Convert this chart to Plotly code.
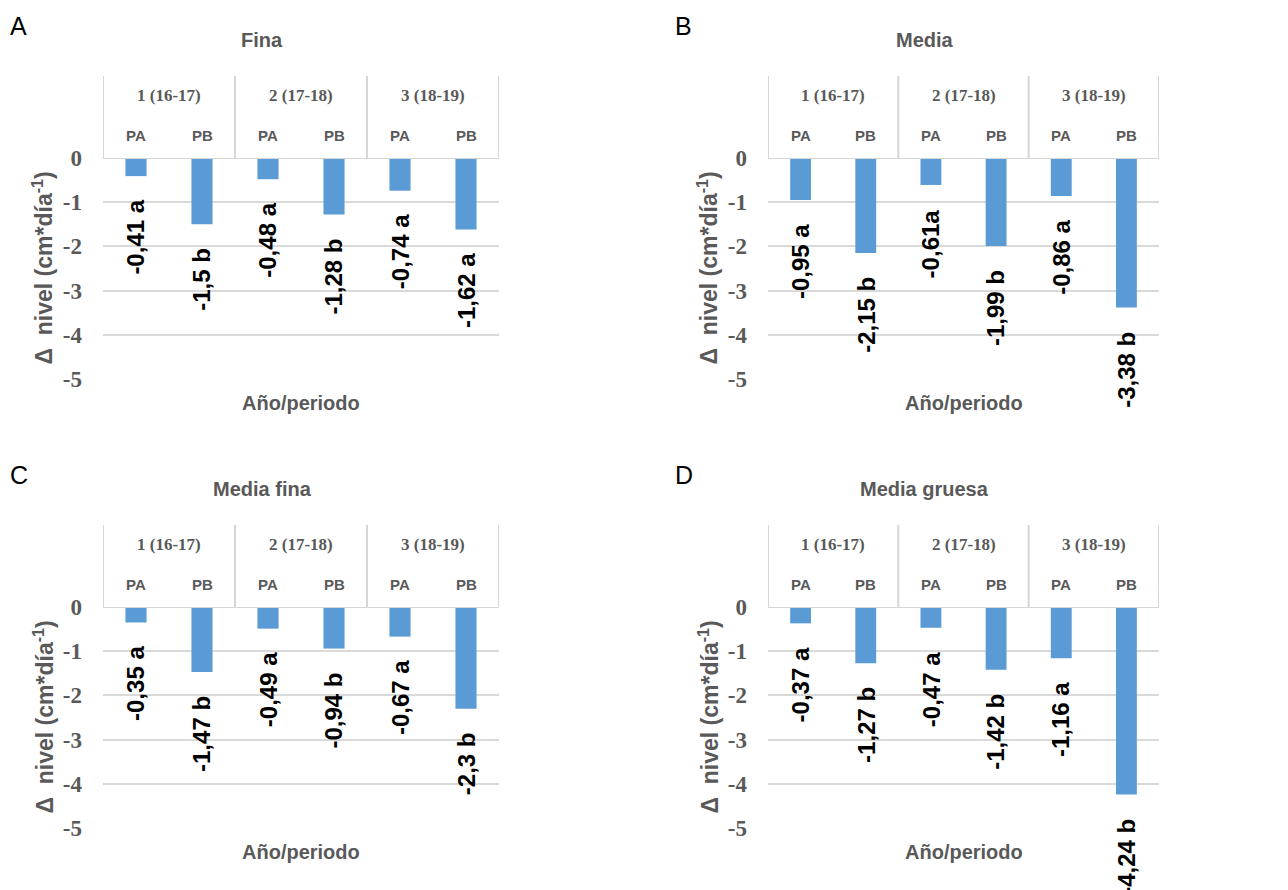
import plotly.graph_objects as go

W, H = 1288, 890

groups = ["1 (16-17)", "2 (17-18)", "3 (18-19)"]
subgroups = ["PA", "PB"]
categories = [f"{g} {s}" for g in groups for s in subgroups]
y_ticks = [0, -1, -2, -3, -4, -5]
y_tick_labels = ["0", "-1", "-2", "-3", "-4", "-5"]

panel_titles = ["Fina", "Media", "Media fina", "Media gruesa"]
panel_letters = ["A", "B", "C", "D"]

fina = [-0.41, -1.5, -0.48, -1.28, -0.74, -1.62]
fina_labels = ["-0,41 a", "-1,5 b", "-0,48 a", "-1,28 b", "-0,74 a", "-1,62 a"]
media = [-0.95, -2.15, -0.61, -1.99, -0.86, -3.38]
media_labels = ["-0,95 a", "-2,15 b", "-0,61a", "-1,99 b", "-0,86 a", "-3,38 b"]
media_fina = [-0.35, -1.47, -0.49, -0.94, -0.67, -2.3]
media_fina_labels = ["-0,35 a", "-1,47 b", "-0,49 a", "-0,94 b", "-0,67 a", "-2,3 b"]
media_gruesa = [-0.37, -1.27, -0.47, -1.42, -1.16, -4.24]
media_gruesa_labels = ["-0,37 a", "-1,27 b", "-0,47 a", "-1,42 b", "-1,16 a", "-4,24 b"]

series = [fina, media, media_fina, media_gruesa]
series_labels = [fina_labels, media_labels, media_fina_labels, media_gruesa_labels]

# panel plot boxes in pixels: left, right, top, bottom
boxes = [(103, 499, 158, 379), (768, 1159, 158, 379),
         (103, 499, 607, 828), (768, 1159, 607, 828)]

BAR = "#5B9BD5"
GRAY = "#595959"
LINE = "#D6D6D6"
SANS = "Liberation Sans, Arial, sans-serif"
SERIF = "Liberation Serif, Times New Roman, serif"


def px(xp):
    return xp / W


def py(yp):
    return 1 - yp / H


fig = go.Figure()
annotations = []
shapes = []
layout_axes = {}

for i in range(4):
    n = i + 1
    xa, ya = f"x{n}", f"y{n}"
    xkey = "xaxis" if n == 1 else f"xaxis{n}"
    ykey = "yaxis" if n == 1 else f"yaxis{n}"
    L, R, T, B = boxes[i]
    fig.add_trace(go.Bar(x=categories, y=series[i], xaxis=xa, yaxis=ya,
                         marker=dict(color=BAR, line=dict(width=0)),
                         width=0.32, showlegend=False, hoverinfo="x+y"))
    layout_axes[xkey] = dict(domain=[px(L), px(R)], anchor=ya, type="category",
                             range=[-0.5, 5.5], showticklabels=False,
                             showgrid=False, zeroline=False, showline=False,
                             ticks="", fixedrange=True, automargin=False)
    layout_axes[ykey] = dict(domain=[py(B), py(T)], anchor=xa, range=[-5, 0],
                             tickvals=y_ticks, ticktext=y_tick_labels,
                             tickfont=dict(family=SERIF, size=23, color=GRAY, weight="bold"),
                             showgrid=True, gridcolor="#D9D9D9", gridwidth=2,
                             zeroline=False, showline=False, ticks="",
                             ticklabelstandoff=20, fixedrange=True, automargin=False)

    # value labels
    for c, v, t in zip(categories, series[i], series_labels[i]):
        annotations.append(dict(x=c, y=v, xref=xa, yref=ya, text=t, textangle=-90,
                                showarrow=False, xanchor="center", yanchor="top",
                                yshift=-22,
                                font=dict(family=SANS, size=24, color="black", weight="bold")))

    # header box
    top_h = T - 82
    for xv in [-0.5, 1.5, 3.5, 5.5]:
        shapes.append(dict(type="line", xref=xa, yref="paper", x0=xv, x1=xv,
                           y0=py(T), y1=py(top_h), line=dict(color=LINE, width=2)))
    shapes.append(dict(type="line", xref=xa, yref=ya, x0=-0.5, x1=5.5, y0=0, y1=0,
                       line=dict(color=LINE, width=2)))
    for gi, g in enumerate(groups):
        annotations.append(dict(x=2 * gi + 0.5, y=py(T - 63), xref=xa, yref="paper",
                                text=g, showarrow=False, xanchor="center", yanchor="middle",
                                font=dict(family=SERIF, size=17, color=GRAY, weight="bold")))
    for ci, c in enumerate(categories):
        annotations.append(dict(x=c, y=py(T - 23), xref=xa, yref="paper",
                                text=subgroups[ci % 2], showarrow=False,
                                xanchor="center", yanchor="middle",
                                font=dict(family=SANS, size=15, color=GRAY, weight="bold")))

    # panel title
    annotations.append(dict(x=px((L + R) / 2 - 39), y=py(T - 118), xref="paper", yref="paper",
                            text=panel_titles[i], showarrow=False, xanchor="center",
                            yanchor="middle",
                            font=dict(family=SANS, size=20, color=GRAY, weight="bold")))
    # panel letter
    annotations.append(dict(x=px(8 if i % 2 == 0 else 673), y=py(T - 132), xref="paper",
                            yref="paper", text=panel_letters[i], showarrow=False,
                            xanchor="left", yanchor="middle",
                            font=dict(family=SANS, size=25, color="black")))
    # y title
    annotations.append(dict(x=px(L - 60), y=py((T + B) / 2), xref="paper", yref="paper",
                            text="Δ  nivel (cm*día<sup>-1</sup>)", textangle=-90,
                            showarrow=False, xanchor="center", yanchor="middle",
                            font=dict(family=SANS, size=23, color=GRAY, weight="bold")))
    # x title
    annotations.append(dict(x=px((L + R) / 2), y=py(B + 24), xref="paper", yref="paper",
                            text="Año/periodo", showarrow=False, xanchor="center",
                            yanchor="middle",
                            font=dict(family=SANS, size=20, color=GRAY, weight="bold")))

fig.update_layout(template="none", width=W, height=H,
                  margin=dict(l=0, r=0, t=0, b=0, pad=0, autoexpand=False),
                  paper_bgcolor="white", plot_bgcolor="white", showlegend=False,
                  annotations=annotations, shapes=shapes, bargap=0.68,
                  **layout_axes)

fig.write_html("out.html")
